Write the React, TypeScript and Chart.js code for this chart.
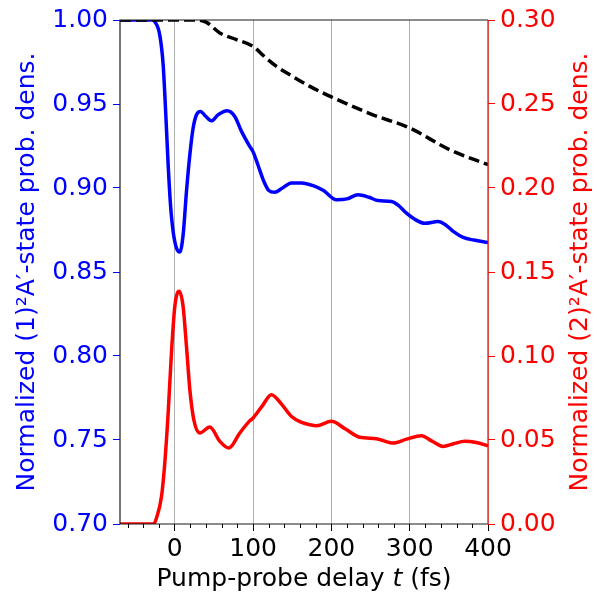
import React, { useEffect, useRef } from "react";
import { Chart, registerables } from "chart.js";
Chart.register(...registerables);

// Delay times (fs) and values
const blueT = [-70, -40, -28, -25.5, -19.2, -14.9, -11.5, -8.5, -5.5, -2.1, 2.1, 6.4, 10.6, 14.9, 19.2, 23.4, 27.7, 32.8, 39.6, 46.8, 55.3, 66.8, 76.6, 85.2, 94.9, 100, 106, 112.8, 120, 127.7, 136, 149, 162, 176.6, 190, 206.5, 220, 234, 248, 259.7, 276.7, 286, 295.9, 306, 319.3, 336.3, 346, 356, 368.2, 382, 400];
const blueV = [1.0, 1.0, 1.0, 0.999, 0.991, 0.9734, 0.9436, 0.9139, 0.890, 0.874, 0.8643, 0.8619, 0.872, 0.898, 0.9198, 0.9357, 0.9436, 0.9456, 0.9426, 0.940, 0.9436, 0.946, 0.9426, 0.9337, 0.9254, 0.9215, 0.914, 0.905, 0.8985, 0.8974, 0.8995, 0.903, 0.903, 0.9014, 0.8985, 0.893, 0.8935, 0.896, 0.8945, 0.8925, 0.892, 0.8895, 0.885, 0.8815, 0.879, 0.880, 0.878, 0.874, 0.8706, 0.869, 0.8676];

const blackT = [-70, 0, 28, 40.5, 57.5, 78.8, 100, 115, 129.9, 147, 172.4, 200, 253, 300, 351, 400];
const blackV = [1.0, 1.0, 1.0, 0.9986, 0.9923, 0.9883, 0.9843, 0.978, 0.9724, 0.9674, 0.9605, 0.9542, 0.9436, 0.9357, 0.9228, 0.9139];

const redT = [-70, -40, -27, -23.4, -17, -12.8, -8.5, -4.3, 0, 5.5, 10.6, 14.9, 19.2, 24.3, 31.9, 44.7, 57.5, 69, 83, 95, 100, 112, 123.4, 136, 149, 162, 172.4, 181, 200, 218, 236.2, 257.5, 278.8, 296, 315, 328, 342.6, 356, 370.4, 385, 400];
const redV = [0, 0, 0, 0.0036, 0.0164, 0.0363, 0.066, 0.1018, 0.1295, 0.1385, 0.1295, 0.1057, 0.0799, 0.062, 0.0542, 0.0577, 0.0492, 0.0452, 0.0542, 0.0611, 0.0631, 0.0705, 0.077, 0.0715, 0.064, 0.0605, 0.0591, 0.0585, 0.0611, 0.0565, 0.0516, 0.0508, 0.0482, 0.0505, 0.0526, 0.0495, 0.0462, 0.0478, 0.0492, 0.0485, 0.0466];

const xTickValues = [-60, -40, -20, 0, 20, 40, 60, 80, 100, 120, 140, 160, 180, 200, 220, 240, 260, 280, 300, 320, 340, 360, 380, 400];
const leftTicks = [0.7, 0.75, 0.8, 0.85, 0.9, 0.95, 1.0];
const rightTicks = [0, 0.05, 0.1, 0.15, 0.2, 0.25, 0.3];

const leftTitle = "Normalized (1)\u00B2A\u2032-state prob. dens.";
const rightTitle = "Normalized (2)\u00B2A\u2032-state prob. dens.";
const xTitleParts = ["Pump-probe delay ", "t", " (fs)"];

const FONT = "'DejaVu Sans', sans-serif";
const FS = 25;

export default function App() {
  const ref = useRef<HTMLCanvasElement>(null);
  useEffect(() => {
    document.body.style.margin = "0";
    const decor = {
      id: "decor",
      afterDatasetsDraw(chart: any) {
        const { ctx, chartArea: a, scales } = chart;
        ctx.save();
        // minor x ticks
        ctx.strokeStyle = "#000";
        ctx.lineWidth = 1;
        for (const v of xTickValues) {
          if (v % 100 === 0) continue;
          const x = Math.round(scales.x.getPixelForValue(v)) + 0.5;
          ctx.beginPath();
          ctx.moveTo(x, a.bottom);
          ctx.lineTo(x, a.bottom + 4);
          ctx.stroke();
        }
        // spines
        ctx.strokeStyle = "#1a1a1a";
        ctx.lineWidth = 1.2;
        ctx.beginPath();
        ctx.moveTo(a.right, a.top);
        ctx.lineTo(a.left, a.top);
        ctx.lineTo(a.left, a.bottom);
        ctx.lineTo(a.right, a.bottom);
        ctx.stroke();
        ctx.strokeStyle = "#ff0000";
        ctx.beginPath();
        ctx.moveTo(a.right, a.top);
        ctx.lineTo(a.right, a.bottom);
        ctx.stroke();
        // titles
        ctx.font = `${FS}px ${FONT}`;
        ctx.textAlign = "center";
        ctx.textBaseline = "middle";
        const cy = (a.top + a.bottom) / 2;
        ctx.save();
        ctx.translate(27, cy);
        ctx.rotate(-Math.PI / 2);
        ctx.fillStyle = "#0000ff";
        ctx.fillText(leftTitle, 0, 0);
        ctx.restore();
        ctx.save();
        ctx.translate(580, cy);
        ctx.rotate(-Math.PI / 2);
        ctx.fillStyle = "#ff0000";
        ctx.fillText(rightTitle, 0, 0);
        ctx.restore();
        // x title with italic t
        const fonts = [`${FS}px ${FONT}`, `oblique ${FS}px ${FONT}`, `${FS}px ${FONT}`];
        let total = 0;
        const widths = xTitleParts.map((p, i) => {
          ctx.font = fonts[i];
          const w = ctx.measureText(p).width;
          total += w;
          return w;
        });
        let x = (a.left + a.right) / 2 - total / 2;
        ctx.textAlign = "left";
        ctx.fillStyle = "#000";
        xTitleParts.forEach((p, i) => {
          ctx.font = fonts[i];
          ctx.fillText(p, x, 579);
          x += widths[i];
        });
        ctx.restore();
      },
    };
    const mk = (T: number[], V: number[]) => T.map((t, i) => ({ x: t, y: V[i] }));
    const chart = new Chart(ref.current!, {
      type: "line",
      data: {
        datasets: [
          { data: mk(redT, redV), yAxisID: "y2", borderColor: "#ff0000", borderWidth: 3.5, pointRadius: 0, cubicInterpolationMode: "monotone", clip: 0 } as any,
          { data: mk(blackT, blackV), yAxisID: "y", borderColor: "#000000", borderWidth: 3.5, borderDash: [11, 5], pointRadius: 0, cubicInterpolationMode: "monotone", clip: 0 } as any,
          { data: mk(blueT, blueV), yAxisID: "y", borderColor: "#0000ff", borderWidth: 3.5, pointRadius: 0, cubicInterpolationMode: "monotone", clip: 0 } as any,
        ],
      },
      options: {
        responsive: false,
        animation: false,
        layout: { padding: { top: 20, left: 0, right: 0, bottom: 0 } },
        plugins: { legend: { display: false }, tooltip: { enabled: false } },
        scales: {
          x: {
            type: "linear",
            min: -70,
            max: 400,
            afterBuildTicks: (s: any) => { s.ticks = xTickValues.map((v) => ({ value: v })); },
            afterFit: (s: any) => { s.height = 75; },
            ticks: {
              callback: (v: any) => (Number(v) % 100 === 0 ? String(v) : ""),
              color: "#000",
              font: { family: FONT, size: FS },
              padding: 3,
              maxRotation: 0,
              autoSkip: false,
            },
            grid: {
              color: (c: any) => (c.tick && c.tick.value % 100 === 0 ? "#b0b0b0" : "rgba(0,0,0,0)"),
              tickColor: (c: any) => (c.tick && c.tick.value % 100 === 0 ? "#000" : "rgba(0,0,0,0)"),
              lineWidth: 1,
              tickLength: 7,
            },
            border: { display: false },
          },
          y: {
            type: "linear",
            position: "left",
            min: 0.7,
            max: 1.0,
            afterBuildTicks: (s: any) => { s.ticks = leftTicks.map((v) => ({ value: v })); },
            afterFit: (s: any) => { s.width = 120; },
            ticks: {
              callback: (v: any) => Number(v).toFixed(2),
              color: "#0000ff",
              font: { family: FONT, size: FS },
              padding: 5,
            },
            grid: { drawOnChartArea: false, tickLength: 7, tickColor: "#0000ff", lineWidth: 1 },
            border: { display: false },
          },
          y2: {
            type: "linear",
            position: "right",
            min: 0,
            max: 0.3,
            afterBuildTicks: (s: any) => { s.ticks = rightTicks.map((v) => ({ value: v })); },
            afterFit: (s: any) => { s.width = 109; },
            ticks: {
              callback: (v: any) => Number(v).toFixed(2),
              color: "#ff0000",
              font: { family: FONT, size: FS },
              padding: 5,
            },
            grid: { drawOnChartArea: false, tickLength: 7, tickColor: "#ff0000", lineWidth: 1 },
            border: { display: false },
          },
        },
      } as any,
      plugins: [decor],
    });
    return () => chart.destroy();
  }, []);
  return (
    <div style={{ position: "absolute", left: 0, top: 0, width: 597, height: 599 }}>
      <canvas ref={ref} width={597} height={599} style={{ width: 597, height: 599, display: "block" }} />
    </div>
  );
}
